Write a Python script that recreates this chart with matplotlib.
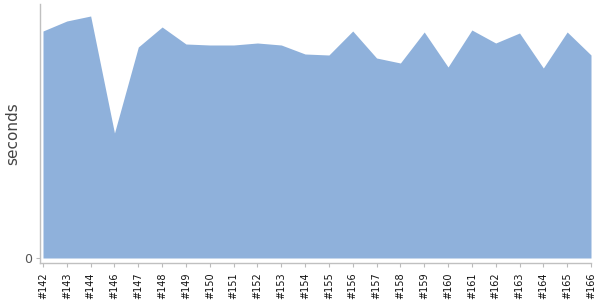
import matplotlib
matplotlib.use("Agg")
import matplotlib.pyplot as plt

builds = ["#142", "#143", "#144", "#146", "#147", "#148", "#149", "#150",
          "#151", "#152", "#153", "#154", "#155", "#156", "#157", "#158",
          "#159", "#160", "#161", "#162", "#163", "#164", "#165", "#166"]
seconds = [227, 237, 242, 125, 211, 231, 214, 213,
           213, 215, 213, 204, 203, 227, 200, 195,
           226, 191, 228, 215, 225, 190, 226, 203]

fig = plt.figure(figsize=(6, 3), dpi=100)
ax = fig.add_axes([40 / 600, 1 - 263 / 300, 551 / 600, 259 / 300])

x = list(range(len(builds)))
ax.fill_between(x, seconds, 0, color="#8fb1db", linewidth=0)

ax.set_xlim(-3 / 23.83, len(builds) - 1)
ax.set_ylim(-5, 254)

ax.set_xticks(x)
ax.set_xticklabels(builds, rotation=90, fontsize=7, color="#111111")
ax.set_yticks([0])
ax.set_yticklabels(["0"], fontsize=9, color="#555555")
ax.tick_params(axis="x", length=3, color="#bbbbbb", pad=4)
ax.tick_params(axis="y", length=3, color="#bbbbbb", pad=3)

for side in ["top", "right"]:
    ax.spines[side].set_visible(False)
for side in ["left", "bottom"]:
    ax.spines[side].set_color("#c0c0c0")
    ax.spines[side].set_linewidth(1)

ax.set_ylabel("seconds", fontsize=11, color="#444444")
ax.yaxis.set_label_coords(-20 / 551, 0.5)

fig.savefig("out.png", dpi=100)
